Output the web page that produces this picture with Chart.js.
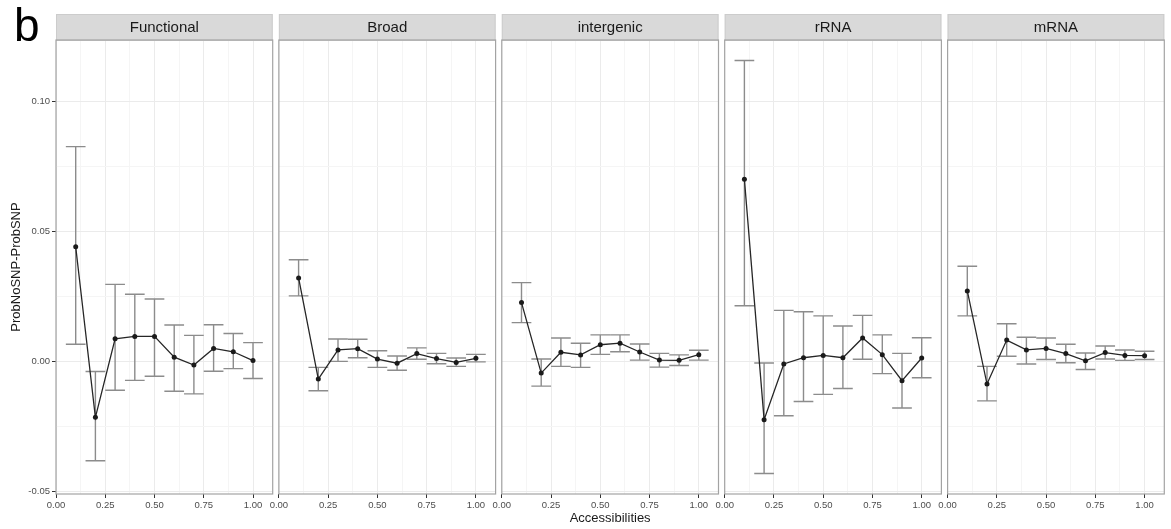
<!DOCTYPE html>
<html>
<head>
<meta charset="utf-8">
<script src="https://cdn.jsdelivr.net/npm/chart.js@4.4.1/dist/chart.umd.min.js"></script>
<style>
  html, body { margin: 0; padding: 0; background: #ffffff; }
  #wrap { position: relative; width: 1171px; height: 529px; overflow: hidden; }
  #wrap canvas { position: absolute; left: 0; top: 0; }
</style>
</head>
<body>
<div id="wrap"></div>
<script>
// ---- data -------------------------------------------------------------
const accessibilities = [0.1, 0.2, 0.3, 0.4, 0.5, 0.6, 0.7, 0.8, 0.9, 1.0];
const facetNames = ['Functional', 'Broad', 'intergenic', 'rRNA', 'mRNA'];

const functionalMean = [0.0442, -0.0214, 0.0088, 0.0097, 0.0097, 0.0017, -0.0013, 0.0051, 0.0038, 0.0004];
const functionalLow  = [0.0067, -0.0381, -0.0110, -0.0072, -0.0056, -0.0114, -0.0124, -0.0037, -0.0027, -0.0065];
const functionalHigh = [0.0827, -0.0038, 0.0297, 0.0259, 0.0241, 0.0141, 0.0101, 0.0142, 0.0108, 0.0073];

const broadMean = [0.0322, -0.0067, 0.0045, 0.0050, 0.0010, -0.0006, 0.0031, 0.0012, -0.0003, 0.0013];
const broadLow  = [0.0253, -0.0112, 0.0001, 0.0015, -0.0022, -0.0033, 0.0009, -0.0008, -0.0018, -0.0001];
const broadHigh = [0.0392, -0.0022, 0.0087, 0.0086, 0.0042, 0.0022, 0.0053, 0.0032, 0.0014, 0.0028];

const intergenicMean = [0.0227, -0.0044, 0.0036, 0.0026, 0.0065, 0.0071, 0.0037, 0.0006, 0.0005, 0.0027];
const intergenicLow  = [0.0150, -0.0094, -0.0018, -0.0022, 0.0028, 0.0038, 0.0006, -0.0021, -0.0015, 0.0006];
const intergenicHigh = [0.0304, 0.0010, 0.0091, 0.0071, 0.0103, 0.0103, 0.0068, 0.0032, 0.0026, 0.0044];

const rrnaMean = [0.0701, -0.0223, -0.0009, 0.0015, 0.0024, 0.0015, 0.0091, 0.0027, -0.0073, 0.0014];
const rrnaLow  = [0.0215, -0.0430, -0.0208, -0.0153, -0.0126, -0.0103, 0.0009, -0.0046, -0.0178, -0.0062];
const rrnaHigh = [0.1158, -0.0005, 0.0197, 0.0192, 0.0176, 0.0137, 0.0178, 0.0103, 0.0032, 0.0092];

const mrnaMean = [0.0272, -0.0086, 0.0083, 0.0045, 0.0051, 0.0031, 0.0003, 0.0035, 0.0024, 0.0023];
const mrnaLow  = [0.0176, -0.0151, 0.0021, -0.0009, 0.0008, -0.0004, -0.0030, 0.0010, 0.0005, 0.0008];
const mrnaHigh = [0.0367, -0.0018, 0.0146, 0.0094, 0.0091, 0.0067, 0.0033, 0.0060, 0.0045, 0.0040];

const xTicks = [0, 0.25, 0.5, 0.75, 1.0];
const yTicks = [-0.05, 0, 0.05, 0.10];
const xMinor = [0.125, 0.375, 0.625, 0.875];
const yMinor = [-0.025, 0.025, 0.075];

const series = [
  { mean: functionalMean, low: functionalLow, high: functionalHigh },
  { mean: broadMean,      low: broadLow,      high: broadHigh },
  { mean: intergenicMean, low: intergenicLow, high: intergenicHigh },
  { mean: rrnaMean,       low: rrnaLow,       high: rrnaHigh },
  { mean: mrnaMean,       low: mrnaLow,       high: mrnaHigh }
];

// ---- layout -----------------------------------------------------------
const W = 1171, H = 529;
const FIRST_LEFT = 56, PANEL_STEP = 222.9, PANEL_W = 216.7;
const PANEL_TOP = 40, STRIP_TOP = 14, X_AXIS_H = 35;
const FONT = '"Liberation Sans", Arial, Helvetica, sans-serif';
const CAP_WIDTH = 0.1;

Chart.defaults.font.family = FONT;

const isMajor = (list, v) => list.some(t => Math.abs(t - v) < 1e-9);

// vertical error bars with caps, drawn beneath the line
const errorBars = {
  id: 'errorBars',
  beforeDatasetsDraw(chart) {
    const { ctx, scales: { x, y } } = chart;
    chart.data.datasets.forEach(ds => {
      if (!ds.low) return;
      ctx.save();
      ctx.strokeStyle = '#8c8c8c';
      ctx.lineWidth = 1.4;
      ds.data.forEach((p, i) => {
        const px = x.getPixelForValue(p.x);
        const half = x.getPixelForValue(p.x + CAP_WIDTH / 2) - px;
        const yl = y.getPixelForValue(ds.low[i]);
        const yh = y.getPixelForValue(ds.high[i]);
        ctx.beginPath();
        ctx.moveTo(px, yl); ctx.lineTo(px, yh);
        ctx.moveTo(px - half, yl); ctx.lineTo(px + half, yl);
        ctx.moveTo(px - half, yh); ctx.lineTo(px + half, yh);
        ctx.stroke();
      });
      ctx.restore();
    });
  }
};

// facet strip, panel frame and the figure letter
const facetFrame = {
  id: 'facetFrame',
  afterDraw(chart, args, opts) {
    const { ctx, chartArea: a } = chart;
    ctx.save();
    ctx.fillStyle = '#d9d9d9';
    ctx.fillRect(a.left, STRIP_TOP, a.right - a.left, a.top - STRIP_TOP);
    ctx.strokeStyle = '#cccccc';
    ctx.lineWidth = 1;
    ctx.strokeRect(a.left + 0.5, STRIP_TOP + 0.5, a.right - a.left - 1, a.top - STRIP_TOP);
    ctx.fillStyle = '#1a1a1a';
    ctx.font = '15px ' + FONT;
    ctx.textAlign = 'center';
    ctx.textBaseline = 'middle';
    ctx.fillText(opts.label, (a.left + a.right) / 2, (STRIP_TOP + a.top) / 2 + 1);
    ctx.strokeStyle = '#a3a3a3';
    ctx.lineWidth = 1.2;
    ctx.strokeRect(a.left, a.top, a.right - a.left, a.bottom - a.top);
    if (opts.letter) {
      ctx.fillStyle = '#000000';
      ctx.font = '46px ' + FONT;
      ctx.textAlign = 'left';
      ctx.textBaseline = 'alphabetic';
      ctx.fillText(opts.letter, 14, 41);
    }
    ctx.restore();
  }
};

function gridColor(list) {
  return ctx => (ctx.tick && isMajor(list, ctx.tick.value)) ? '#ebebeb' : '#f5f5f5';
}
function tickColor(list) {
  return ctx => (ctx.tick && isMajor(list, ctx.tick.value)) ? '#333333' : 'rgba(0,0,0,0)';
}

function buildPanel(idx) {
  const wrap = document.getElementById('wrap');
  const canvas = document.createElement('canvas');
  canvas.width = W; canvas.height = H;
  canvas.style.width = W + 'px'; canvas.style.height = H + 'px';
  wrap.appendChild(canvas);

  const first = idx === 0;
  const left = FIRST_LEFT + idx * PANEL_STEP;
  const s = series[idx];

  new Chart(canvas, {
    type: 'line',
    data: {
      datasets: [{
        data: accessibilities.map((x, i) => ({ x, y: s.mean[i] })),
        low: s.low,
        high: s.high,
        borderColor: '#262626',
        borderWidth: 1.3,
        pointRadius: 2.5,
        pointBackgroundColor: '#1a1a1a',
        pointBorderWidth: 0,
        tension: 0
      }]
    },
    options: {
      responsive: false,
      animation: false,
      devicePixelRatio: 1,
      layout: { padding: { left: first ? 0 : left, right: W - (left + PANEL_W), top: PANEL_TOP, bottom: 0 } },
      plugins: {
        legend: { display: false },
        tooltip: { enabled: false },
        facetFrame: { label: facetNames[idx], letter: first ? 'b' : '' }
      },
      scales: {
        x: {
          type: 'linear',
          min: 0,
          max: 1.1,
          afterBuildTicks: sc => { sc.ticks = xTicks.concat(xMinor).sort((a, b) => a - b).map(v => ({ value: v })); },
          afterFit: sc => { sc.height = X_AXIS_H; sc.paddingLeft = 0; sc.paddingRight = 0; },
          ticks: {
            autoSkip: false, maxRotation: 0, minRotation: 0, padding: 2,
            color: '#4d4d4d', font: { size: 9.5 },
            callback: v => isMajor(xTicks, v) ? v.toFixed(2) : ''
          },
          grid: { color: gridColor(xTicks), lineWidth: 1, tickLength: 4, tickColor: tickColor(xTicks), tickWidth: 1 },
          border: { display: false },
          title: {
            display: idx === 2, text: 'Accessibilities', color: '#1a1a1a',
            font: { size: 13 }, padding: { top: 0, bottom: 3 }
          }
        },
        y: {
          type: 'linear',
          min: -0.0509,
          max: 0.1237,
          afterBuildTicks: sc => { sc.ticks = yTicks.concat(yMinor).sort((a, b) => a - b).map(v => ({ value: v })); },
          afterFit: sc => { sc.width = first ? FIRST_LEFT : 0; },
          ticks: {
            display: first, autoSkip: false, padding: 2,
            color: '#4d4d4d', font: { size: 9.5 },
            callback: v => isMajor(yTicks, v) ? v.toFixed(2) : ''
          },
          grid: {
            color: gridColor(yTicks), lineWidth: 1, drawTicks: first,
            tickLength: first ? 4 : 0, tickColor: tickColor(yTicks), tickWidth: 1
          },
          border: { display: false },
          title: {
            display: first, text: 'ProbNoSNP-ProbSNP', color: '#1a1a1a',
            font: { size: 13 }, padding: { top: 9, bottom: 0 }
          }
        }
      }
    },
    plugins: [errorBars, facetFrame]
  });
}

facetNames.forEach((_, i) => buildPanel(i));
</script>
</body>
</html>
